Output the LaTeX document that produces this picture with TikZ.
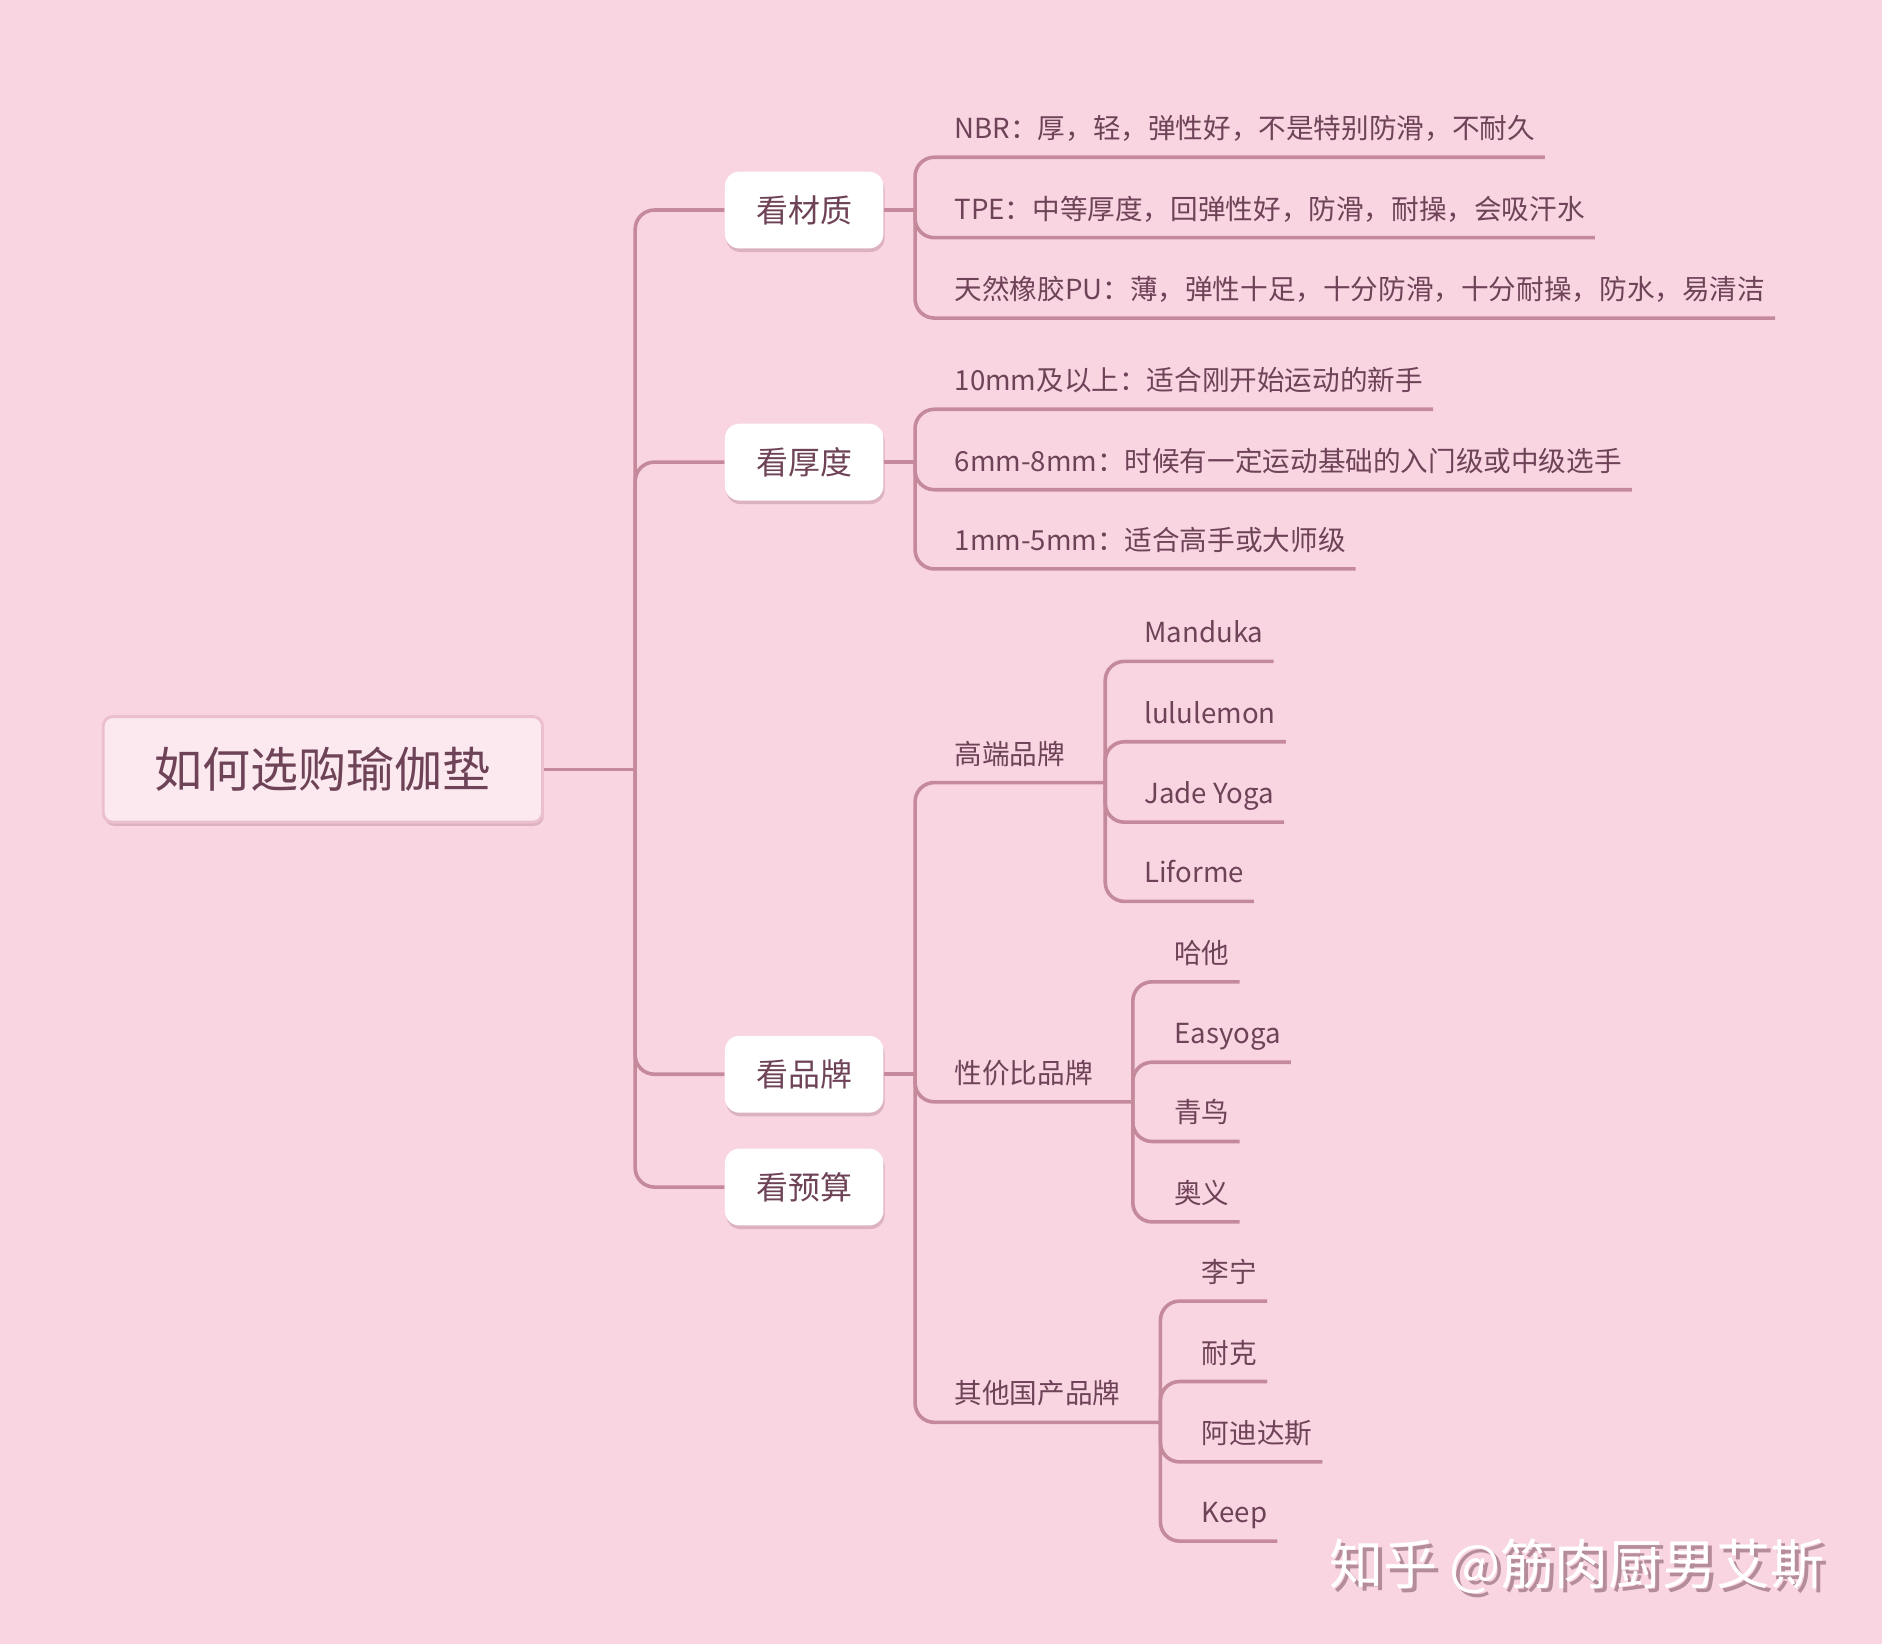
\documentclass[tikz,border=0pt]{standalone}
\usepackage{fontspec}
\setmainfont{Noto Sans CJK SC}
\usetikzlibrary{shadows}
\definecolor{bgpink}{HTML}{F9D5E1}
\definecolor{linepink}{HTML}{C48A9C}
\definecolor{textmauve}{HTML}{6E4257}
\definecolor{rootfill}{HTML}{FCE9EF}
\definecolor{rootline}{HTML}{EBBFCC}
\definecolor{shadowpink}{HTML}{D5A9B8}
\definecolor{markgrey}{HTML}{B48C9A}
\tikzset{
  branch/.style={draw=linepink, line width=1.5pt, rounded corners=8pt},
  rootbox/.style={draw=rootline, fill=rootfill, line width=1.2pt, rounded corners=4pt,
    minimum width=183pt, minimum height=44pt, text=textmauve,
    font=\fontsize{20pt}{24pt}\selectfont,
    drop shadow={shadow xshift=0.5pt, shadow yshift=-1.5pt, fill=shadowpink, opacity=0.8}},
  topic/.style={fill=white, rounded corners=6pt, minimum width=66pt, minimum height=32pt,
    text=textmauve, font=\fontsize{13.3pt}{16pt}\selectfont,
    drop shadow={shadow xshift=0.5pt, shadow yshift=-1.5pt, fill=shadowpink, opacity=0.8}},
  leaf/.style={anchor=south west, inner xsep=4pt, inner ysep=0pt, text height=10pt,
    text depth=7.5pt, text=textmauve, font=\fontsize{11.5pt}{14pt}\selectfont},
  markfont/.style={font=\fontsize{22.5pt}{26pt}\selectfont},
}
\begin{document}
\begin{tikzpicture}[x=0.5pt, y=-0.5pt]
  % Background
  \fill[bgpink] (0,0) rectangle (1568,1370);
  \useasboundingbox (0,0) rectangle (1568,1370);
  % Root and main topics
  \node[rootbox] (root) at (269,641) {如何选购瑜伽垫};
  \node[topic] (cz) at (670,175) {看材质};
  \node[topic] (hd) at (670,385) {看厚度};
  \node[topic] (pp) at (670,895) {看品牌};
  \node[topic] (ys) at (670,989) {看预算};
  \draw[branch] (root.east) -- ++(76,0) coordinate (rootj);
  \foreach \t in {cz,hd,pp,ys} {
    \draw[branch] (rootj) |- (\t.west);
  }
  % Material
  \node[leaf] (nbr) at (787,131) {NBR：厚，轻，弹性好，不是特别防滑，不耐久};
  \node[leaf] (tpe) at (787,198) {TPE：中等厚度，回弹性好，防滑，耐操，会吸汗水};
  \node[leaf] (xj) at (787,265) {天然橡胶PU：薄，弹性十足，十分防滑，十分耐操，防水，易清洁};
  \draw[branch] (cz.east) -- ++(26,0) coordinate (czj);
  \foreach \t in {nbr,tpe,xj} {
    \draw[branch] (czj) |- (\t.south east);
  }
  % Thickness
  \node[leaf] (h10) at (787,341) {10mm及以上：适合刚开始运动的新手};
  \node[leaf] (h6) at (787,408) {6mm-8mm：时候有一定运动基础的入门级或中级选手};
  \node[leaf] (h1) at (787,474) {1mm-5mm：适合高手或大师级};
  \draw[branch] (hd.east) -- ++(26,0) coordinate (hdj);
  \foreach \t in {h10,h6,h1} {
    \draw[branch] (hdj) |- (\t.south east);
  }
  % Brands
  \node[leaf] (gd) at (787,652) {高端品牌};
  \node[leaf] (xjb) at (787,918) {性价比品牌};
  \node[leaf] (qt) at (787,1185) {其他国产品牌};
  \draw[branch] (pp.east) -- ++(26,0) coordinate (ppj);
  \foreach \t in {gd,xjb,qt} {
    \draw[branch] (ppj) |- (\t.south east) -- ++(25,0) coordinate (\t j);
  }
  \node[leaf] (md) at (945,551) {Manduka};
  \node[leaf] (ll) at (945,618) {lululemon};
  \node[leaf] (jy) at (945,685) {Jade Yoga};
  \node[leaf] (lf) at (945,751) {Liforme};
  \foreach \t in {md,ll,jy,lf} {
    \draw[branch] (gdj) |- (\t.south east);
  }
  \node[leaf] (ht) at (970,818) {哈他};
  \node[leaf] (ey) at (970,885) {Easyoga};
  \node[leaf] (qn) at (970,951) {青鸟};
  \node[leaf] (ay) at (970,1018) {奥义};
  \foreach \t in {ht,ey,qn,ay} {
    \draw[branch] (xjbj) |- (\t.south east);
  }
  \node[leaf] (ln) at (993,1084) {李宁};
  \node[leaf] (nk) at (993,1151) {耐克};
  \node[leaf] (ad) at (993,1218) {阿迪达斯};
  \node[leaf] (kp) at (993,1284) {Keep};
  \foreach \t in {ln,nk,ad,kp} {
    \draw[branch] (qtj) |- (\t.south east);
  }
  % Watermark
  \node[markfont, text=markgrey] (marks) at (1317,1308) {知乎 @筋肉厨男艾斯};
  \node[markfont, text=white] (mark) at (1314,1305) {知乎 @筋肉厨男艾斯};
\end{tikzpicture}
\end{document}
